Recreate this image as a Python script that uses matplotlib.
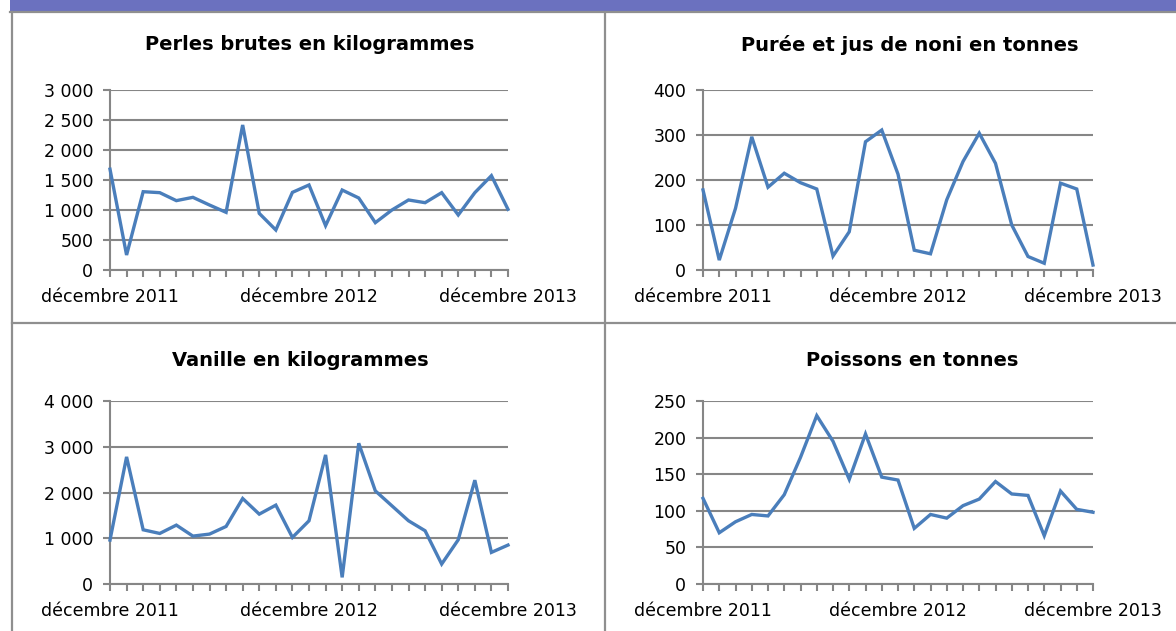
import matplotlib
matplotlib.use("Agg")
import matplotlib.pyplot as plt
from matplotlib.patches import Rectangle
from matplotlib.lines import Line2D

# 25 monthly values, décembre 2011 -> décembre 2013
months = list(range(25))
x_labels = {0: "décembre 2011", 12: "décembre 2012", 24: "décembre 2013"}

perles = [1680, 250, 1305, 1289, 1156, 1211, 1083, 961, 2417, 944, 667, 1294, 1417,
          739, 1333, 1200, 789, 1000, 1167, 1122, 1289, 917, 1289, 1572, 1011]
noni = [178, 22, 137, 296, 184, 215, 194, 180, 31, 85, 285, 311, 213,
        44, 36, 156, 241, 304, 237, 100, 30, 15, 193, 180, 11]
vanille = [960, 2778, 1185, 1105, 1287, 1047, 1091, 1258, 1869, 1527, 1724, 1018, 1382,
           2822, 145, 3076, 2036, 1709, 1382, 1164, 436, 967, 2269, 691, 851]
poissons = [117, 70, 85, 95, 93, 122, 173, 230, 195, 143, 205, 146, 142,
            76, 95, 90, 107, 116, 140, 123, 121, 66, 127, 102, 98]

titles = ["Perles brutes en kilogrammes", "Purée et jus de noni en tonnes",
          "Vanille en kilogrammes", "Poissons en tonnes"]
yticks = [[0, 500, 1000, 1500, 2000, 2500, 3000],
          [0, 100, 200, 300, 400],
          [0, 1000, 2000, 3000, 4000],
          [0, 50, 100, 150, 200, 250]]
yticklabels = [["0", "500", "1 000", "1 500", "2 000", "2 500", "3 000"],
               ["0", "100", "200", "300", "400"],
               ["0", "1 000", "2 000", "3 000", "4 000"],
               ["0", "50", "100", "150", "200", "250"]]

W, H = 1176, 631
LINE = "#4A7EBB"
GRID = "#868686"

fig = plt.figure(figsize=(W / 100, H / 100), dpi=100)
fig.patch.set_facecolor("white")


def px_axes(x0, x1, ytop, ybot):
    return fig.add_axes([x0 / W, 1 - ybot / H, (x1 - x0) / W, (ybot - ytop) / H])


# (left, right, top, bottom) of each plot area in pixels, title centre
boxes = [(110, 508, 90, 270, 310, 45),
         (703, 1093, 90, 270, 910, 45),
         (110, 508, 401, 584, 300, 360),
         (703, 1093, 401, 584, 912, 360)]
series = [perles, noni, vanille, poissons]

for (x0, x1, yt, yb, tx, ty), vals, title, yt_, ytl in zip(boxes, series, titles, yticks, yticklabels):
    ax = px_axes(x0, x1, yt, yb)
    ax.plot(months, vals, color=LINE, lw=2.4, solid_joinstyle="miter", clip_on=False, zorder=3)
    ax.set_xlim(0, 24)
    ax.set_ylim(yt_[0], yt_[-1])
    ax.set_yticks(yt_)
    ax.set_yticklabels(ytl)
    ax.set_xticks(months)
    ax.set_xticklabels([x_labels.get(m, "") for m in months])
    ax.grid(axis="y", color=GRID, lw=1.5)
    ax.set_axisbelow(True)
    for s in ("top", "right"):
        ax.spines[s].set_visible(False)
    for s in ("left", "bottom"):
        ax.spines[s].set_color(GRID)
        ax.spines[s].set_linewidth(1.5)
    ax.tick_params(axis="both", colors=GRID, length=5, width=1.5, labelcolor="black",
                   labelsize=12.5)
    ax.tick_params(axis="y", pad=7)
    ax.tick_params(axis="x", pad=8)
    fig.text(tx / W, 1 - ty / H, title, ha="center", va="center",
             fontsize=14, fontweight="bold")

# header band and cell borders
fig.add_artist(Rectangle((10 / W, 1 - 11 / H), 1 - 10 / W, 11 / H,
                         transform=fig.transFigure, color="#6B71BF", lw=0))
border = dict(color="#8F8F8F", lw=1.6, transform=fig.transFigure)
fig.add_artist(Line2D([10 / W, 1], [1 - 12 / H, 1 - 12 / H], **border))
fig.add_artist(Line2D([12 / W, 12 / W], [0, 1 - 12 / H], **border))
fig.add_artist(Line2D([605 / W, 605 / W], [0, 1 - 12 / H], **border))
fig.add_artist(Line2D([12 / W, 1], [1 - 323 / H, 1 - 323 / H], **border))

fig.savefig("out.png", dpi=100)
